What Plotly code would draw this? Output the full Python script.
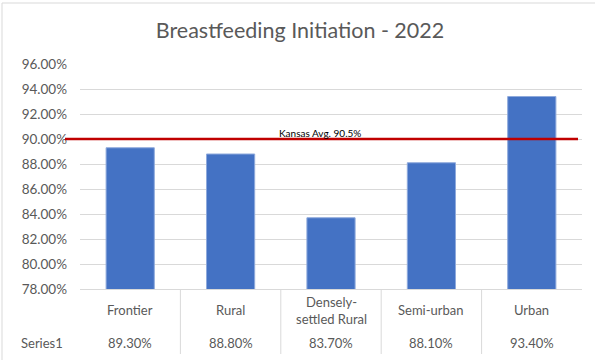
import plotly.graph_objects as go

categories = ["Frontier", "Rural", "Densely-settled Rural", "Semi-urban", "Urban"]
cat_labels = ["Frontier", "Rural", "Densely-<br>settled Rural", "Semi-urban", "Urban"]
values = [89.3, 88.8, 83.7, 88.1, 93.4]
series_name = "Series1"
kansas_avg_line = 90.0
kansas_label = "Kansas Avg. 90.5%"
title = "Breastfeeding Initiation - 2022"

FONT = "Lato, 'Open Sans', sans-serif"
GREY = "#595959"

W, H = 595, 360
L, R, T, B = 80, 13, 64, 71
PW = W - L - R
PH = H - T - B

def px_x(px):
    return (px - L) / PW

def px_y(py):
    return (H - B - py) / PH

fig = go.Figure()
fig.add_trace(go.Bar(
    x=list(range(len(categories))), y=values, name=series_name,
    marker=dict(color="#4472C4", line=dict(color="#8FAADC", width=1)),
    width=0.48, hoverinfo="y",
))

shapes = []
shapes.append(dict(type="line", xref="paper", yref="y", x0=px_x(65), x1=px_x(578),
                   y0=kansas_avg_line, y1=kansas_avg_line,
                   line=dict(color="#C00000", width=2.5), layer="above"))
for i in range(len(categories) - 1):
    shapes.append(dict(type="line", xref="x", yref="paper", x0=i + 0.5, x1=i + 0.5,
                       y0=0, y1=px_y(354), line=dict(color="#D9D9D9", width=1)))
shapes.append(dict(type="line", xref="paper", yref="paper", x0=px_x(2), x1=px_x(600),
                   y0=px_y(3), y1=px_y(3), line=dict(color="#D9D9D9", width=1)))
shapes.append(dict(type="line", xref="paper", yref="paper", x0=px_x(2), x1=px_x(2),
                   y0=px_y(3), y1=px_y(370), line=dict(color="#D9D9D9", width=1)))

annotations = []
for i, (lab, v) in enumerate(zip(cat_labels, values)):
    annotations.append(dict(x=i, y=px_y(310), xref="x", yref="paper", text=lab,
                            showarrow=False, font=dict(family=FONT, size=13, color=GREY),
                            xanchor="center", yanchor="middle"))
    annotations.append(dict(x=i, y=px_y(343), xref="x", yref="paper", text=f"{v:.2f}%",
                            showarrow=False, font=dict(family=FONT, size=13, color=GREY),
                            xanchor="center", yanchor="middle"))
annotations.append(dict(x=px_x(42), y=px_y(343), xref="paper", yref="paper", text=series_name,
                        showarrow=False, font=dict(family=FONT, size=13, color=GREY),
                        xanchor="center", yanchor="middle"))
annotations.append(dict(x=px_x(320), y=px_y(133), xref="paper", yref="paper", text=kansas_label,
                        showarrow=False, font=dict(family=FONT, size=10, color="#000000"),
                        xanchor="center", yanchor="middle"))

fig.update_layout(
    width=W, height=H,
    margin=dict(l=L, r=R, t=T, b=B),
    paper_bgcolor="white", plot_bgcolor="white",
    title=dict(text=title, x=300 / W, xref="container", xanchor="center",
               y=1 - 30 / H, yref="container", yanchor="middle",
               font=dict(family=FONT, size=21.5, color=GREY)),
    showlegend=False,
    bargap=0.52,
    xaxis=dict(range=[-0.5, len(categories) - 0.5], showticklabels=False, showgrid=False,
               zeroline=False, showline=True, linecolor="#D9D9D9", linewidth=1,
               ticks="", fixedrange=True),
    yaxis=dict(range=[78, 96], dtick=2, tickformat=".2f", ticksuffix="%",
               showgrid=True, gridcolor="#D9D9D9", gridwidth=1, zeroline=False,
               showline=False, tickfont=dict(family=FONT, size=13.5, color=GREY),
               ticklabelstandoff=12, fixedrange=True),
    shapes=shapes, annotations=annotations,
)

fig.write_html("out.html", config={"displayModeBar": False},
               post_script="document.body.style.margin='0';document.body.style.overflow='hidden';")
